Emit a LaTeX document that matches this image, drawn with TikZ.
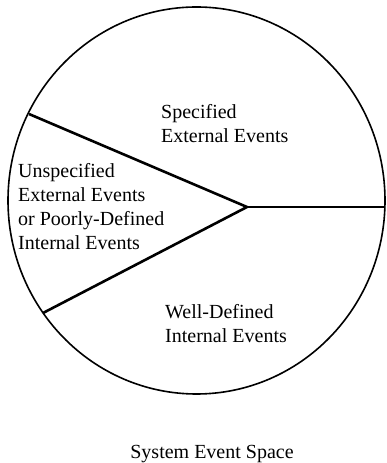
\documentclass[tikz,border=0pt]{standalone}
\usepackage{fontspec}
\setmainfont{Liberation Serif}
\usepackage{tikz}

\begin{document}
\begin{tikzpicture}[x=1pt,y=1pt,
  region/.style={anchor=base west,inner sep=0pt,align=left,font=\fontsize{20}{24.3}\selectfont},
  divider/.style={line width=2.6pt}]
\def\rx{188.5}
\def\ry{193.5}
\useasboundingbox (0,0) rectangle (386,463);
\draw[line width=1.6pt] (196.5,262.5) ellipse ({\rx} and {\ry});
\coordinate (hub) at (247,256);
\coordinate (top) at (29,349);
\coordinate (bot) at (43,150);
\coordinate (rim) at (385,256);
\draw[divider] (top) -- (hub) -- (bot);
\draw[line width=1.8pt] (hub) -- (rim);
% labels of the three regions (base = last line)
\node[region] (spec) at (161,320) {Specified\\External Events};
\node[region] (unspec) at (18,213) {Unspecified\\External Events\\or Poorly-Defined\\Internal Events};
\node[region] (welldef) at (165,120) {Well-Defined\\Internal Events};
\node[anchor=base,inner sep=0pt,font=\fontsize{20}{24.3}\selectfont] (title) at (212,5) {System Event Space};
\end{tikzpicture}
\end{document}
